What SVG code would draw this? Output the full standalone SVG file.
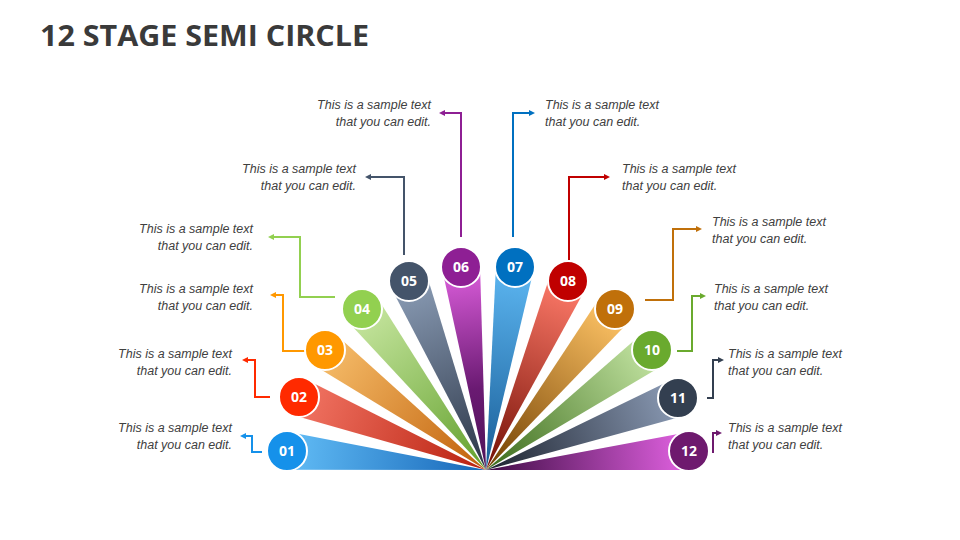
<svg xmlns="http://www.w3.org/2000/svg" width="960" height="540" viewBox="0 0 960 540">
<style>
.t{font-family:"Liberation Sans",Arial,sans-serif;font-style:italic;font-size:12.5px;fill:#404040}
.l{text-anchor:end}
.n{font-family:"Open Sans","Liberation Sans",sans-serif;font-weight:bold;font-size:14px;fill:#fff;text-anchor:middle}
.c{stroke:#fff;stroke-width:2}
.k{fill:none;stroke-width:2}
</style>
<defs>
<linearGradient id="g1" x1="0" y1="0" x2="0" y2="1"><stop offset="0" stop-color="#62BDF6"/><stop offset="1" stop-color="#1666B8"/></linearGradient>
<linearGradient id="g2" x1="0" y1="0" x2="0" y2="1"><stop offset="0" stop-color="#F27564"/><stop offset="1" stop-color="#B8200F"/></linearGradient>
<linearGradient id="g3" x1="0" y1="0" x2="0" y2="1"><stop offset="0" stop-color="#F6BD6A"/><stop offset="1" stop-color="#C0600A"/></linearGradient>
<linearGradient id="g4" x1="0" y1="0" x2="0" y2="1"><stop offset="0" stop-color="#C7E6A0"/><stop offset="1" stop-color="#62A02C"/></linearGradient>
<linearGradient id="g5" x1="0" y1="0" x2="0" y2="1"><stop offset="0" stop-color="#8A9CB5"/><stop offset="1" stop-color="#2A3445"/></linearGradient>
<linearGradient id="g6" x1="0" y1="0" x2="0" y2="1"><stop offset="0" stop-color="#DC5EDC"/><stop offset="0.6" stop-color="#6A1A72"/><stop offset="1" stop-color="#4E1258"/></linearGradient>
<linearGradient id="g7" x1="0" y1="0" x2="0" y2="1"><stop offset="0" stop-color="#5DB7F2"/><stop offset="1" stop-color="#185C96"/></linearGradient>
<linearGradient id="g8" x1="0" y1="0" x2="0" y2="1"><stop offset="0" stop-color="#FF7B6A"/><stop offset="1" stop-color="#720E04"/></linearGradient>
<linearGradient id="g9" x1="0" y1="0" x2="0" y2="1"><stop offset="0" stop-color="#FFC466"/><stop offset="1" stop-color="#703E00"/></linearGradient>
<linearGradient id="g10" x1="0" y1="0" x2="0" y2="1"><stop offset="0" stop-color="#C3E4A2"/><stop offset="1" stop-color="#3A6A1A"/></linearGradient>
<linearGradient id="g11" x1="0" y1="0" x2="0" y2="1"><stop offset="0" stop-color="#8B9BB5"/><stop offset="1" stop-color="#1C222E"/></linearGradient>
<linearGradient id="g12" x1="0" y1="0" x2="0" y2="1"><stop offset="0" stop-color="#E262E2"/><stop offset="1" stop-color="#400C46"/></linearGradient>
<marker id="m1" viewBox="0 0 6 6" refX="3" refY="3" markerWidth="3" markerHeight="3" orient="auto"><path d="M0,0L6,3L0,6Z" fill="#1591EA"/></marker>
<marker id="m2" viewBox="0 0 6 6" refX="3" refY="3" markerWidth="3" markerHeight="3" orient="auto"><path d="M0,0L6,3L0,6Z" fill="#FF2A00"/></marker>
<marker id="m3" viewBox="0 0 6 6" refX="3" refY="3" markerWidth="3" markerHeight="3" orient="auto"><path d="M0,0L6,3L0,6Z" fill="#FF9800"/></marker>
<marker id="m4" viewBox="0 0 6 6" refX="3" refY="3" markerWidth="3" markerHeight="3" orient="auto"><path d="M0,0L6,3L0,6Z" fill="#92D050"/></marker>
<marker id="m5" viewBox="0 0 6 6" refX="3" refY="3" markerWidth="3" markerHeight="3" orient="auto"><path d="M0,0L6,3L0,6Z" fill="#44546A"/></marker>
<marker id="m6" viewBox="0 0 6 6" refX="3" refY="3" markerWidth="3" markerHeight="3" orient="auto"><path d="M0,0L6,3L0,6Z" fill="#8E1F94"/></marker>
<marker id="m7" viewBox="0 0 6 6" refX="3" refY="3" markerWidth="3" markerHeight="3" orient="auto"><path d="M0,0L6,3L0,6Z" fill="#0070C0"/></marker>
<marker id="m8" viewBox="0 0 6 6" refX="3" refY="3" markerWidth="3" markerHeight="3" orient="auto"><path d="M0,0L6,3L0,6Z" fill="#C00000"/></marker>
<marker id="m9" viewBox="0 0 6 6" refX="3" refY="3" markerWidth="3" markerHeight="3" orient="auto"><path d="M0,0L6,3L0,6Z" fill="#C0700A"/></marker>
<marker id="m10" viewBox="0 0 6 6" refX="3" refY="3" markerWidth="3" markerHeight="3" orient="auto"><path d="M0,0L6,3L0,6Z" fill="#6AAA2E"/></marker>
<marker id="m11" viewBox="0 0 6 6" refX="3" refY="3" markerWidth="3" markerHeight="3" orient="auto"><path d="M0,0L6,3L0,6Z" fill="#333F50"/></marker>
<marker id="m12" viewBox="0 0 6 6" refX="3" refY="3" markerWidth="3" markerHeight="3" orient="auto"><path d="M0,0L6,3L0,6Z" fill="#6E1A6E"/></marker>
</defs>
<rect width="960" height="540" fill="#fff"/>
<text x="40" y="46" font-family="'Open Sans','Liberation Sans',sans-serif" font-weight="bold" font-size="29" fill="#3A3A3A" textLength="329" lengthAdjust="spacingAndGlyphs">12 STAGE SEMI CIRCLE</text>
<g id="connectors">
<path class="k" stroke="#1591EA" d="M262,452H252V436H243" marker-end="url(#m1)"/>
<path class="k" stroke="#FF2A00" d="M270,397H255V360H245" marker-end="url(#m2)"/>
<path class="k" stroke="#FF9800" d="M305,351H283V295H273" marker-end="url(#m3)"/>
<path class="k" stroke="#92D050" d="M335,297H300V237H271" marker-end="url(#m4)"/>
<path class="k" stroke="#44546A" d="M404,255V177H368" marker-end="url(#m5)"/>
<path class="k" stroke="#8E1F94" d="M461,237V113H442" marker-end="url(#m6)"/>
<path class="k" stroke="#0070C0" d="M513,237V113H532" marker-end="url(#m7)"/>
<path class="k" stroke="#C00000" d="M569,260V177H607" marker-end="url(#m8)"/>
<path class="k" stroke="#C0700A" d="M645,300H673V229H699" marker-end="url(#m9)"/>
<path class="k" stroke="#6AAA2E" d="M677,351H692V296H703" marker-end="url(#m10)"/>
<path class="k" stroke="#333F50" d="M707,398H713V360H721" marker-end="url(#m11)"/>
<path class="k" stroke="#6E1A6E" d="M713,453V433H719" marker-end="url(#m12)"/>
</g>
<g id="rays">
<polygon transform="translate(486,470) rotate(-84.5)" points="0,0 -19,-200 19,-200" fill="url(#g1)"/>
<polygon transform="translate(486,470) rotate(-68.7)" points="0,0 -19,-201 19,-201" fill="url(#g2)"/>
<polygon transform="translate(486,470) rotate(-53.3)" points="0,0 -19,-201 19,-201" fill="url(#g3)"/>
<polygon transform="translate(486,470) rotate(-37.6)" points="0,0 -19,-203 19,-203" fill="url(#g4)"/>
<polygon transform="translate(486,470) rotate(-22.2)" points="0,0 -19,-204 19,-204" fill="url(#g5)"/>
<polygon transform="translate(486,470) rotate(-7)" points="0,0 -19,-204 19,-204" fill="url(#g6)"/>
<polygon transform="translate(486,470) rotate(8.1)" points="0,0 -19,-205 19,-205" fill="url(#g7)"/>
<polygon transform="translate(486,470) rotate(23.5)" points="0,0 -19,-206 19,-206" fill="url(#g8)"/>
<polygon transform="translate(486,470) rotate(38.7)" points="0,0 -19,-206 19,-206" fill="url(#g9)"/>
<polygon transform="translate(486,470) rotate(54.1)" points="0,0 -19,-205 19,-205" fill="url(#g10)"/>
<polygon transform="translate(486,470) rotate(69.4)" points="0,0 -19,-205 19,-205" fill="url(#g11)"/>
<polygon transform="translate(486,470) rotate(84.7)" points="0,0 -19,-204 19,-204" fill="url(#g12)"/>
</g>
<g id="n01"><circle class="c" cx="287" cy="451" r="20" fill="#1591EA"/><text class="n" x="287" y="456">01</text><text class="t l" x="232" y="432">This is a sample text</text><text class="t l" x="232" y="449">that you can edit.</text></g>
<g id="n02"><circle class="c" cx="299" cy="397" r="20" fill="#FF2A00"/><text class="n" x="299" y="402">02</text><text class="t l" x="232" y="358">This is a sample text</text><text class="t l" x="232" y="375">that you can edit.</text></g>
<g id="n03"><circle class="c" cx="325" cy="350" r="20" fill="#FF9800"/><text class="n" x="325" y="355">03</text><text class="t l" x="253" y="293">This is a sample text</text><text class="t l" x="253" y="310">that you can edit.</text></g>
<g id="n04"><circle class="c" cx="362" cy="309" r="20" fill="#92D050"/><text class="n" x="362" y="314">04</text><text class="t l" x="253" y="233">This is a sample text</text><text class="t l" x="253" y="250">that you can edit.</text></g>
<g id="n05"><circle class="c" cx="409" cy="281" r="20" fill="#44546A"/><text class="n" x="409" y="286">05</text><text class="t l" x="356" y="173">This is a sample text</text><text class="t l" x="356" y="190">that you can edit.</text></g>
<g id="n06"><circle class="c" cx="461" cy="267" r="20" fill="#8E1F94"/><text class="n" x="461" y="272">06</text><text class="t l" x="431" y="109">This is a sample text</text><text class="t l" x="431" y="126">that you can edit.</text></g>
<g id="n07"><circle class="c" cx="515" cy="267" r="20" fill="#0070C0"/><text class="n" x="515" y="272">07</text><text class="t" x="545" y="109">This is a sample text</text><text class="t" x="545" y="126">that you can edit.</text></g>
<g id="n08"><circle class="c" cx="568" cy="281" r="20" fill="#C00000"/><text class="n" x="568" y="286">08</text><text class="t" x="622" y="173">This is a sample text</text><text class="t" x="622" y="190">that you can edit.</text></g>
<g id="n09"><circle class="c" cx="615" cy="309" r="20" fill="#C0700A"/><text class="n" x="615" y="314">09</text><text class="t" x="712" y="226">This is a sample text</text><text class="t" x="712" y="243">that you can edit.</text></g>
<g id="n10"><circle class="c" cx="652" cy="350" r="20" fill="#6AAA2E"/><text class="n" x="652" y="355">10</text><text class="t" x="714" y="293">This is a sample text</text><text class="t" x="714" y="310">that you can edit.</text></g>
<g id="n11"><circle class="c" cx="678" cy="398" r="20" fill="#333F50"/><text class="n" x="678" y="403">11</text><text class="t" x="728" y="358">This is a sample text</text><text class="t" x="728" y="375">that you can edit.</text></g>
<g id="n12"><circle class="c" cx="689" cy="451" r="20" fill="#6E1A6E"/><text class="n" x="689" y="456">12</text><text class="t" x="728" y="432">This is a sample text</text><text class="t" x="728" y="449">that you can edit.</text></g>
</svg>
